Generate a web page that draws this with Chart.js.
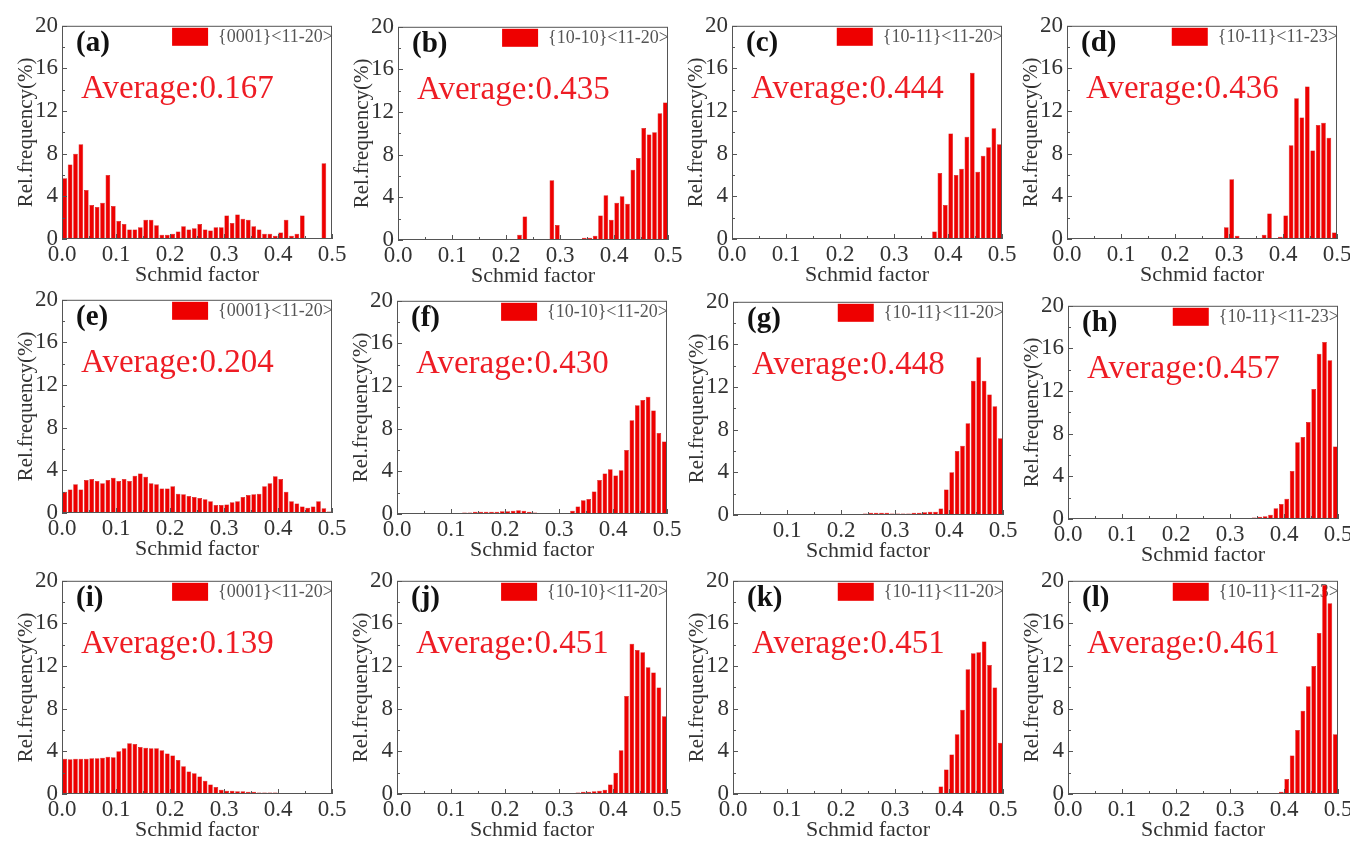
<!DOCTYPE html>
<html>
<head>
<meta charset="utf-8">
<script src="https://cdn.jsdelivr.net/npm/chart.js@4.4.1/dist/chart.umd.min.js"></script>
<style>
html, body { margin: 0; padding: 0; background: #fff; }
#fig { position: relative; width: 1350px; height: 842px; overflow: hidden; }
#fig canvas { position: absolute; }
</style>
</head>
<body>
<div id="fig"></div>
<script>
// Schmid factor bins (0.01 wide), bin centres
const binCenters = [
  0.005, 0.015, 0.025, 0.035, 0.045, 0.055, 0.065, 0.075, 0.085, 0.095,
  0.105, 0.115, 0.125, 0.135, 0.145, 0.155, 0.165, 0.175, 0.185, 0.195,
  0.205, 0.215, 0.225, 0.235, 0.245, 0.255, 0.265, 0.275, 0.285, 0.295,
  0.305, 0.315, 0.325, 0.335, 0.345, 0.355, 0.365, 0.375, 0.385, 0.395,
  0.405, 0.415, 0.425, 0.435, 0.445, 0.455, 0.465, 0.475, 0.485, 0.495
];

// Rel. frequency (%) per bin, one array per panel
const sfA = [
  5.7, 7.0, 8.0, 8.9, 4.6, 3.2, 3.0, 3.4, 6.0, 3.1,
  1.7, 1.4, 0.9, 0.9, 1.1, 1.8, 1.8, 1.3, 0.4, 0.4,
  0.5, 0.7, 1.2, 0.9, 1.0, 1.4, 0.9, 0.8, 1.1, 1.1,
  2.2, 1.5, 2.3, 1.9, 1.8, 1.2, 0.9, 0.5, 0.5, 0.3,
  0.6, 1.8, 0.3, 0.5, 2.2, 0, 0, 0, 7.1, 0
];
const sfB = [
  0, 0, 0.1, 0, 0, 0, 0, 0, 0, 0,
  0, 0, 0, 0, 0, 0, 0, 0, 0, 0,
  0, 0, 0.5, 2.2, 0.1, 0, 0, 0.1, 5.6, 1.4,
  0, 0, 0, 0.05, 0.2, 0.2, 0.4, 2.3, 4.2, 1.9,
  3.5, 4.1, 3.4, 6.6, 7.7, 10.5, 9.9, 10.1, 11.9, 12.9
];
const sfC = [
  0, 0, 0, 0, 0, 0, 0, 0, 0, 0,
  0, 0, 0, 0, 0, 0, 0, 0, 0, 0,
  0, 0, 0, 0, 0, 0, 0, 0, 0, 0,
  0, 0, 0, 0, 0, 0, 0, 0.7, 6.2, 3.2,
  9.9, 6.0, 6.6, 9.6, 15.6, 6.3, 7.8, 8.6, 10.4, 8.9
];
const sfD = [
  0, 0, 0, 0, 0, 0, 0, 0, 0, 0,
  0, 0, 0, 0, 0, 0, 0, 0, 0, 0,
  0, 0, 0, 0, 0, 0, 0, 0, 0, 1.1,
  5.6, 0.3, 0, 0, 0, 0, 0.4, 2.4, 0, 0.2,
  2.2, 8.8, 13.2, 11.4, 14.3, 8.3, 10.7, 10.9, 9.5, 0.6
];
const sfE = [
  2.0, 2.2, 2.7, 2.2, 3.1, 3.2, 3.0, 2.8, 3.1, 3.3,
  3.0, 3.2, 3.0, 3.5, 3.7, 3.4, 2.8, 2.7, 2.3, 2.3,
  2.5, 1.8, 1.75, 1.6, 1.5, 1.4, 1.3, 1.1, 0.75, 0.75,
  0.8, 1.0, 1.1, 1.5, 1.7, 1.75, 1.8, 2.5, 2.8, 3.45,
  3.2, 2.0, 1.1, 0.9, 0.6, 0.5, 0.6, 1.1, 0.45, 0.15
];
const sfF = [
  0, 0, 0, 0, 0, 0, 0, 0, 0.05, 0.1,
  0.1, 0.1, 0.15, 0.15, 0.2, 0.2, 0.2, 0.2, 0.2, 0.25,
  0.25, 0.3, 0.35, 0.3, 0.2, 0.15, 0.1, 0.1, 0.1, 0.05,
  0.05, 0.1, 0.3, 0.7, 1.3, 1.4, 2.1, 3.2, 3.8, 4.2,
  3.6, 4.1, 6.0, 8.8, 10.2, 10.7, 11.0, 9.7, 7.6, 6.8
];
const sfG = [
  0, 0, 0, 0, 0, 0, 0, 0, 0, 0,
  0, 0, 0, 0, 0, 0, 0, 0, 0, 0,
  0.05, 0.1, 0.1, 0.1, 0.15, 0.2, 0.2, 0.2, 0.2, 0.15,
  0.15, 0.15, 0.15, 0.2, 0.2, 0.25, 0.3, 0.3, 0.6, 2.4,
  4.0, 6.0, 6.5, 8.6, 12.6, 14.8, 12.6, 11.3, 10.2, 7.2
];
const sfH = [
  0, 0, 0, 0, 0, 0, 0, 0, 0, 0,
  0, 0, 0, 0, 0, 0, 0, 0, 0, 0,
  0, 0, 0, 0, 0, 0, 0, 0, 0, 0,
  0, 0, 0.05, 0.1, 0.15, 0.2, 0.25, 0.4, 1.0, 1.4,
  1.9, 4.5, 7.2, 7.7, 9.1, 12.2, 15.5, 16.6, 14.9, 6.8
];
const sfI = [
  3.3, 3.25, 3.3, 3.3, 3.3, 3.35, 3.35, 3.4, 3.5, 3.45,
  4.0, 4.3, 4.75, 4.7, 4.4, 4.35, 4.3, 4.3, 4.1, 3.8,
  3.6, 3.2, 2.6, 2.1, 1.95, 1.65, 1.25, 0.9, 0.65, 0.4,
  0.3, 0.3, 0.25, 0.25, 0.2, 0.2, 0.15, 0.15, 0.15, 0.15,
  0.1, 0.1, 0.1, 0.1, 0.05, 0.05, 0.05, 0.05, 0.03, 0.03
];
const sfJ = [
  0, 0, 0, 0, 0.1, 0, 0, 0, 0, 0,
  0, 0, 0, 0, 0, 0, 0, 0, 0, 0,
  0, 0, 0, 0, 0, 0, 0, 0, 0, 0.05,
  0.1, 0.1, 0.1, 0.15, 0.2, 0.2, 0.25, 0.3, 0.4, 0.9,
  2.0, 4.1, 9.2, 14.1, 13.5, 13.3, 11.9, 11.4, 10.0, 7.3
];
const sfK = [
  0, 0, 0, 0, 0, 0, 0, 0, 0, 0,
  0, 0, 0, 0, 0, 0, 0, 0, 0, 0,
  0, 0, 0, 0, 0, 0, 0, 0, 0, 0,
  0, 0, 0, 0, 0, 0, 0, 0, 0.7, 2.3,
  3.7, 5.6, 7.9, 11.7, 13.2, 13.3, 14.3, 12.1, 10.0, 4.8
];
const sfL = [
  0, 0, 0, 0, 0, 0, 0, 0, 0, 0,
  0, 0, 0, 0, 0, 0, 0, 0, 0, 0,
  0, 0, 0, 0, 0, 0, 0, 0, 0, 0,
  0, 0, 0.05, 0.05, 0.05, 0.05, 0.05, 0.05, 0.1, 0.2,
  1.4, 3.6, 6.0, 7.8, 10.1, 12.0, 15.1, 19.6, 17.9, 5.6
];

const panelSeries = [sfA, sfB, sfC, sfD, sfE, sfF, sfG, sfH, sfI, sfJ, sfK, sfL];
const panelTags = ['(a)', '(b)', '(c)', '(d)', '(e)', '(f)', '(g)', '(h)', '(i)', '(j)', '(k)', '(l)'];
const slipSystems = [
  '{0001}<11-20>', '{10-10}<11-20>', '{10-11}<11-20>', '{10-11}<11-23>',
  '{0001}<11-20>', '{10-10}<11-20>', '{10-11}<11-20>', '{10-11}<11-23>',
  '{0001}<11-20>', '{10-10}<11-20>', '{10-11}<11-20>', '{10-11}<11-23>'
];
const averages = ['0.167', '0.435', '0.444', '0.436', '0.204', '0.430', '0.448', '0.457', '0.139', '0.451', '0.451', '0.461'];
const xTickLabels = ['0.0', '0.1', '0.2', '0.3', '0.4', '0.5'];
const yTickLabels = ['0', '4', '8', '12', '16', '20'];
const hideZeroLabel = [false, false, false, false, false, false, true, false, false, false, false, false];

// plot-area top-left corners on the page
const plotPos = [
  [62, 23], [398, 24], [732, 23], [1067, 23],
  [62, 297], [397, 298], [733, 299], [1068, 303],
  [62, 578], [397, 578], [733, 578], [1068, 578]
];
const PLOT_W = 270, PLOT_H = 216, Y_AXIS_W = 62, X_AXIS_H = 50, PAD_TOP = 15, PAD_RIGHT = 20;

const SERIF = '"Liberation Serif", "Times New Roman", serif';
const RED = '#ee0000';

const deco = {
  id: 'deco',
  beforeDatasetsDraw(chart, args, o) {
    const { ctx, chartArea: a } = chart;
    ctx.save();
    // legend swatch + slip system
    ctx.font = '18px ' + SERIF;
    ctx.textAlign = 'right';
    ctx.textBaseline = 'middle';
    ctx.fillStyle = '#555';
    const tw = ctx.measureText(o.legend).width;
    ctx.fillText(o.legend, a.right + 1, a.top + 11);
    ctx.fillStyle = RED;
    ctx.fillRect(a.right + 1 - tw - 10 - 36, a.top + 2, 36, 18);
    // panel tag
    ctx.textAlign = 'left';
    ctx.textBaseline = 'alphabetic';
    ctx.fillStyle = '#111';
    ctx.font = 'bold 29px ' + SERIF;
    ctx.fillText(o.tag, a.left + 14, a.top + 25);
    // average
    ctx.fillStyle = '#ee1c24';
    ctx.font = '33px ' + SERIF;
    ctx.fillText('Average:' + o.avg, a.left + 19, a.top + 72);
    ctx.restore();
  },
  afterDraw(chart) {
    const { ctx, chartArea: a, scales } = chart;
    ctx.save();
    ctx.strokeStyle = '#555';
    ctx.lineWidth = 1;
    ctx.strokeRect(a.left + 0.5, a.top + 0.5, a.width - 1, a.height - 1);
    ctx.beginPath();
    scales.x.ticks.forEach(t => {
      const p = Math.round(scales.x.getPixelForValue(t.value)) + 0.5;
      const len = Math.round(t.value * 20) % 2 ? 3 : 5;
      ctx.moveTo(p, a.bottom);
      ctx.lineTo(p, a.bottom - len);
    });
    scales.y.ticks.forEach(t => {
      const p = Math.round(scales.y.getPixelForValue(t.value)) + 0.5;
      const len = Math.round(t.value) % 4 ? 3 : 5;
      ctx.moveTo(a.left, p);
      ctx.lineTo(a.left + len, p);
    });
    ctx.stroke();
    ctx.restore();
  }
};

const fig = document.getElementById('fig');

panelSeries.forEach((series, i) => {
  const [px, py] = plotPos[i];
  const cv = document.createElement('canvas');
  const cw = Y_AXIS_W + PLOT_W + PAD_RIGHT;
  const ch = PAD_TOP + PLOT_H + X_AXIS_H;
  cv.width = cw;
  cv.height = ch;
  cv.style.left = (px - Y_AXIS_W) + 'px';
  cv.style.top = (py - PAD_TOP) + 'px';
  fig.appendChild(cv);

  new Chart(cv, {
    type: 'bar',
    data: {
      labels: binCenters,
      datasets: [{
        label: slipSystems[i],
        data: series,
        backgroundColor: RED,
        borderColor: '#c40000',
        borderWidth: 0.5,
        borderSkipped: 'start',
        barPercentage: 1,
        categoryPercentage: 0.86
      }]
    },
    options: {
      responsive: false,
      animation: false,
      devicePixelRatio: 1,
      layout: { padding: { top: PAD_TOP, right: PAD_RIGHT, left: 0, bottom: 0 } },
      plugins: {
        legend: { display: false },
        tooltip: { enabled: false },
        deco: { tag: panelTags[i], avg: averages[i], legend: slipSystems[i] }
      },
      scales: {
        x: {
          type: 'linear',
          min: 0, max: 0.5,
          offset: false,
          grid: { display: false, offset: false, drawTicks: false },
          border: { display: false },
          afterFit: s => { s.height = X_AXIS_H; },
          ticks: {
            stepSize: 0.05,
            autoSkip: false,
            maxRotation: 0,
            padding: 2,
            color: '#333',
            font: { family: SERIF, size: 23 },
            callback: v => {
              const k = Math.round(v * 20);
              if (k % 2) return '';
              if (k === 0 && hideZeroLabel[i]) return '';
              return xTickLabels[k / 2];
            }
          },
          title: {
            display: true,
            text: 'Schmid factor',
            color: '#333',
            font: { family: SERIF, size: 22 },
            padding: { top: 0, bottom: 1 }
          }
        },
        y: {
          min: 0, max: 20,
          grid: { display: false, drawTicks: false },
          border: { display: false },
          afterFit: s => { s.width = Y_AXIS_W; },
          ticks: {
            stepSize: 2,
            autoSkip: false,
            padding: 4,
            color: '#333',
            font: { family: SERIF, size: 23 },
            callback: v => (Math.round(v) % 4 ? '' : yTickLabels[Math.round(v) / 4])
          },
          title: {
            display: true,
            text: 'Rel.frequency(%)',
            color: '#333',
            font: { family: SERIF, size: 21 },
            padding: { top: 14, bottom: 0 }
          }
        }
      }
    },
    plugins: [deco]
  });
});
</script>
</body>
</html>
